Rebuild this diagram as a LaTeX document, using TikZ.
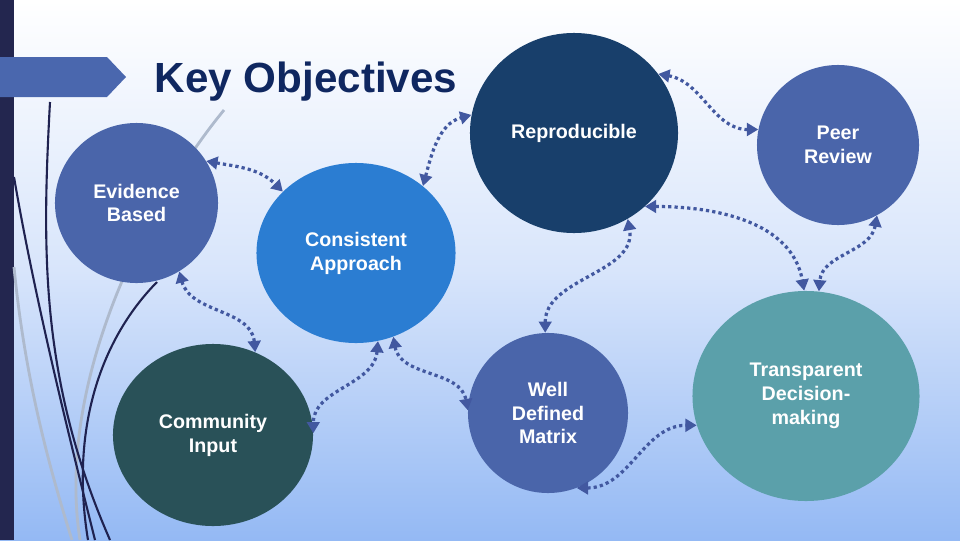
\documentclass[tikz,border=0pt]{standalone}
\usepackage{fontspec}
\setmainfont{Liberation Sans}
\usetikzlibrary{arrows.meta,positioning,shapes.geometric}
\definecolor{objBack}{HTML}{94B9F4}
\definecolor{objMid}{HTML}{D8E5FB}
\definecolor{objBar}{HTML}{23264F}
\definecolor{objTab}{HTML}{4A67AE}
\definecolor{objTitle}{HTML}{0F2760}
\definecolor{objNavy}{HTML}{183F6B}
\definecolor{objSlate}{HTML}{4A65AA}
\definecolor{objBright}{HTML}{2B7DD2}
\definecolor{objTeal}{HTML}{295158}
\definecolor{objAqua}{HTML}{5BA0AA}
\definecolor{objLink}{HTML}{4258A0}
\definecolor{objSwoosh}{HTML}{1F2250}
\definecolor{objGrey}{HTML}{AEBACD}
\tikzset{
  objCircle/.style={
    ellipse,
    inner sep=0pt,
    text=white,
    align=center,
    font=\fontsize{14}{17}\selectfont\bfseries
  },
  objArrow/.style={{Triangle[length=8pt,width=9pt]}-{Triangle[length=8pt,width=9pt]},
    line width=2.3pt, draw=objLink, dash pattern=on 2.3pt off 2.2pt},
  objSwooshDark/.style={draw=objSwoosh, line width=1.5pt},
  objSwooshLight/.style={draw=objGrey, line width=2pt}
}

\begin{document}
\begin{tikzpicture}[x=0.025cm, y=-0.025cm]
    \useasboundingbox (0,0) rectangle (960,540);
    \shade[top color=white, bottom color=objBack, middle color=objMid]
      (0,0) rectangle (960,540);

    % left side decoration
    \fill[objBar] (0,0) rectangle (14,540);
    \draw[objSwooshLight] (224,110) .. controls (150,200) and (55,380) .. (80,540);
    \draw[objSwooshLight] (14,267) .. controls (25,380) and (50,470) .. (72,540);
    \draw[objSwooshDark] (50,102) .. controls (42,250) and (40,380) .. (110,540);
    \draw[objSwooshDark] (14,177) .. controls (35,300) and (70,440) .. (95,540);
    \draw[objSwooshDark] (157,282) .. controls (100,340) and (70,430) .. (88,540);
    \fill[objTab] (0,57) -- (107,57) -- (126,77) -- (107,97) -- (0,97) -- cycle;

    \node[anchor=base, text=objTitle, font=\fontsize{30}{36}\selectfont\bfseries]
      (title) at (306,92) {Key Objectives};

    \node[objCircle, fill=objNavy, minimum width=5.2cm, minimum height=5cm]
      (repro) at (574,133) {Reproducible};
    \node[objCircle, fill=objSlate, minimum width=4.05cm, minimum height=4cm]
      (peer) at (838,145) {Peer\\Review};
    \node[objCircle, fill=objSlate, minimum width=4.075cm, minimum height=4cm]
      (evid) at (136.5,203) {Evidence\\Based};
    \node[objCircle, fill=objBright, minimum width=4.975cm, minimum height=4.5cm]
      (cons) at (356,253) {Consistent\\Approach};
    \node[objCircle, fill=objTeal, minimum width=5cm, minimum height=4.55cm]
      (comm) at (213,435) {Community\\Input};
    \node[objCircle, fill=objSlate, minimum width=4cm, minimum height=4cm]
      (well) at (548,413) {Well\\Defined\\Matrix};
    \node[objCircle, fill=objAqua, minimum width=5.675cm, minimum height=5.25cm]
      (trans) at (806,396) {Transparent\\Decision-\\making};

    \draw[objArrow] (evid.31) to[out=-10, in=135] (cons.140);
    \draw[objArrow] (cons.45) to[out=75, in=195] (repro.170);
    \draw[objArrow] (repro.35) to[out=-10, in=180] (peer.169);
    \draw[objArrow] (repro.-46) to[out=0, in=100] (trans.91);
    \draw[objArrow] (peer.-61) to[out=-100, in=85] (trans.83);
    \draw[objArrow] (well.92) to[out=90, in=-80] (repro.-58);
    \draw[objArrow] (evid.-58) to[out=-75, in=95] (comm.63);
    \draw[objArrow] (cons.-76) to[out=-95, in=90] (comm.1);
    \draw[objArrow] (cons.-66) to[out=-80, in=100] (well.178);
    \draw[objArrow] (well.-69) to[out=0, in=180] (trans.195);
\end{tikzpicture}
\end{document}
